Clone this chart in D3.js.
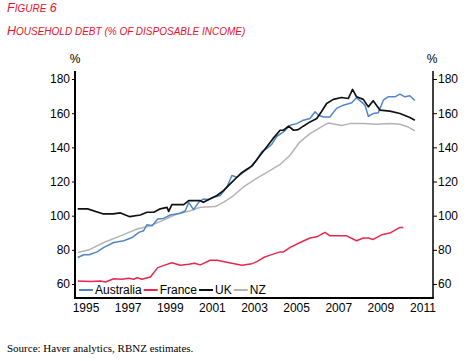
<!DOCTYPE html>
<html>
<head>
<meta charset="utf-8">
<script src="https://cdn.jsdelivr.net/npm/d3@7/dist/d3.min.js"></script>
<style>
  html, body { margin: 0; padding: 0; background: #fff; }
  svg { display: block; }
</style>
</head>
<body>
<svg id="chart" width="468" height="361"></svg>
<script>
// ---- Data ----
const seriesNames = ["Australia", "France", "UK", "NZ"];
const yTicks = [60, 80, 100, 120, 140, 160, 180];
const xTicks = [1995, 1997, 1999, 2001, 2003, 2005, 2007, 2009, 2011];

const ausT = [1994.63,1994.92,1995.16,1995.55,1995.87,1996.34,1996.82,1997.21,1997.53,1997.76,1997.92,1998.16,1998.43,1998.70,1999.03,1999.50,1999.74,1999.90,2000.13,2000.37,2000.60,2000.84,2001.08,2001.40,2001.71,2001.95,2002.20,2002.50,2002.80,2003.14,2003.37,2003.60,2003.84,2004.09,2004.40,2004.72,2005.03,2005.34,2005.66,2005.90,2006.06,2006.30,2006.60,2006.92,2007.24,2007.64,2007.87,2008.10,2008.27,2008.43,2008.66,2008.90,2009.14,2009.37,2009.69,2009.93,2010.17,2010.40,2010.64];
const ausV = [75.5,77.1,77.1,78.8,81.4,84.3,85.3,87.2,90.2,91.2,94.7,94.1,98.1,98.4,100.4,101.4,102.9,107.8,103.5,107.8,109.8,109.4,110.8,111.8,116.6,123.5,122.5,125.5,128.0,132.8,137.5,139.2,141.7,146.5,149.0,152.9,153.9,155.9,156.9,160.8,158.8,157.8,157.8,162.8,164.7,166.1,169.0,166.6,164.7,158.2,159.8,160.2,167.6,169.6,169.6,171.2,169.6,170.2,167.4];

const fraT = [1994.63,1995.24,1995.71,1995.95,1996.34,1996.73,1997.05,1997.29,1997.45,1997.68,1998.08,1998.43,1998.79,1999.10,1999.50,1999.90,2000.17,2000.45,2000.92,2001.24,2001.71,2002.42,2002.90,2003.14,2003.45,2003.77,2004.24,2004.40,2004.72,2005.19,2005.66,2005.98,2006.37,2006.61,2007.40,2007.87,2008.19,2008.43,2008.66,2009.06,2009.45,2009.93,2010.09];
const fraV = [61.8,61.4,61.8,61.2,63.1,62.8,63.4,62.8,63.7,62.8,64.1,69.6,71.2,72.4,71.0,71.6,72.2,71.2,73.9,73.9,72.7,71.0,71.9,73.1,75.5,76.9,78.8,78.8,81.4,84.3,86.9,87.6,90.2,88.2,88.2,85.3,86.9,86.9,86.1,88.8,89.8,93.1,93.1];

const ukT = [1994.63,1995.10,1995.85,1996.30,1996.66,1997.10,1997.60,1997.92,1998.24,1998.55,1998.87,1998.95,1999.10,1999.66,1999.90,2000.45,2000.60,2000.90,2001.24,2001.55,2001.87,2002.19,2002.40,2002.66,2002.90,2003.21,2003.60,2003.90,2004.24,2004.40,2004.64,2004.88,2005.10,2005.34,2005.66,2005.98,2006.20,2006.45,2006.77,2007.16,2007.48,2007.68,2007.87,2008.19,2008.43,2008.66,2008.98,2009.45,2009.93,2010.40,2010.64];
const ukV = [104.0,104.0,101.0,101.0,101.6,99.4,100.4,102.0,102.0,104.0,104.9,102.5,106.5,106.5,108.8,108.8,107.8,109.8,111.8,114.7,118.6,122.5,125.0,127.2,129.0,134.0,140.2,145.1,150.0,150.0,152.4,150.0,150.4,152.4,154.9,156.9,160.8,165.7,168.1,169.2,168.6,173.9,169.6,168.1,163.7,167.3,161.8,161.2,159.8,157.5,155.9];

const nzT = [1994.63,1995.16,1995.87,1996.66,1997.45,1998.08,1998.70,1999.34,1999.98,2000.45,2001.16,2001.55,2002.03,2002.50,2003.14,2003.77,2004.24,2004.72,2005.17,2005.66,2006.14,2006.53,2006.85,2007.16,2007.56,2008.19,2008.82,2009.45,2009.93,2010.33,2010.64];
const nzV = [78.4,80.0,84.3,88.2,92.2,94.1,97.4,101.0,102.9,104.9,105.3,107.8,111.8,116.8,122.0,126.5,130.0,135.5,143.1,148.0,151.6,154.3,153.5,152.8,153.9,153.9,153.5,153.9,153.5,151.9,149.6];

const seriesT = [ausT, fraT, ukT, nzT];
const seriesV = [ausV, fraV, ukV, nzV];
const colors = ["#5086c8", "#e5294d", "#111111", "#b4b4b4"];

// ---- Layout ----
const svg = d3.select("#chart");
const pLeft = 75, pRight = 433, pTop = 71, pBottom = 298;
const red = "#e8102c";

const x = d3.scaleLinear().domain([1994.5, 2011.5]).range([pLeft, pRight]);
const y = d3.scaleLinear().domain([51.8, 184.7]).range([pBottom, pTop]);

svg.append("rect").attr("width", 468).attr("height", 361).attr("fill", "#fff");

// Titles
const t1 = svg.append("text").attr("x", 7).attr("y", 11.5)
  .attr("font-family", "Liberation Sans, Arial, sans-serif").attr("font-style", "italic").attr("fill", red);
t1.append("tspan").attr("font-size", 12.5).text("F");
t1.append("tspan").attr("font-size", 10).text("IGURE");
t1.append("tspan").attr("font-size", 12.5).text(" 6");

const t2 = svg.append("text").attr("x", 7).attr("y", 35)
  .attr("font-family", "Liberation Sans, Arial, sans-serif").attr("font-style", "italic").attr("fill", red);
t2.append("tspan").attr("font-size", 12.5).text("H");
t2.append("tspan").attr("font-size", 10).text("OUSEHOLD DEBT (% OF DISPOSABLE INCOME)");

// Axes
const font = "Liberation Sans, Arial, sans-serif";
const yl = svg.append("g").attr("transform", `translate(${pLeft},0)`)
  .call(d3.axisLeft(y).tickValues(yTicks).tickSize(3).tickPadding(2));
const yr = svg.append("g").attr("transform", `translate(${pRight},0)`)
  .call(d3.axisRight(y).tickValues(yTicks).tickSize(4).tickPadding(1));
const xb = svg.append("g").attr("transform", `translate(0,${pBottom})`)
  .call(d3.axisBottom(x).tickValues(xTicks).tickFormat(d3.format("d")).tickSize(0).tickPadding(5));
[yl, yr, xb].forEach(g => {
  g.selectAll("text").attr("font-family", font).attr("font-size", 12).attr("fill", "#000");
  g.selectAll(".tick line").attr("stroke", "#000");
  g.select(".domain").remove();
});

// Frame lines
svg.append("line").attr("x1", pLeft).attr("x2", pLeft).attr("y1", pTop).attr("y2", pBottom + 1)
  .attr("stroke", "#000").attr("stroke-width", 2);
svg.append("line").attr("x1", pRight).attr("x2", pRight).attr("y1", pTop).attr("y2", pBottom + 1)
  .attr("stroke", "#000").attr("stroke-width", 1.5);
svg.append("line").attr("x1", pLeft - 1).attr("x2", pRight + 0.75).attr("y1", pBottom).attr("y2", pBottom)
  .attr("stroke", "#000").attr("stroke-width", 2);

// % labels
svg.append("text").attr("x", 75).attr("y", 63).attr("text-anchor", "middle")
  .attr("font-family", font).attr("font-size", 12).text("%");
svg.append("text").attr("x", 432).attr("y", 63).attr("text-anchor", "middle")
  .attr("font-family", font).attr("font-size", 12).text("%");

// Lines (draw NZ, France, Australia, UK order)
const line = d3.line().x(d => x(d[0])).y(d => y(d[1]));
[3, 1, 0, 2].forEach(i => {
  const pts = seriesT[i].map((t, k) => [t, seriesV[i][k]]);
  svg.append("path").datum(pts).attr("d", line)
    .attr("fill", "none").attr("stroke", colors[i])
    .attr("stroke-width", i === 2 ? 1.7 : 1.5).attr("stroke-linejoin", "round");
});

// Legend
let lx = 79;
const ly = 290;
seriesNames.forEach((name, i) => {
  svg.append("line").attr("x1", lx).attr("x2", lx + 14).attr("y1", ly).attr("y2", ly)
    .attr("stroke", colors[i]).attr("stroke-width", 2);
  const tx = svg.append("text").attr("x", lx + 16).attr("y", ly + 4.3)
    .attr("font-family", font).attr("font-size", 12).attr("fill", "#000").text(name);
  lx += 16 + tx.node().getComputedTextLength() + 2;
});

// Source
svg.append("text").attr("x", 7).attr("y", 352)
  .attr("font-family", "Liberation Serif, Times New Roman, serif").attr("font-size", 11)
  .attr("fill", "#000").text("Source: Haver analytics, RBNZ estimates.");
</script>
</body>
</html>
